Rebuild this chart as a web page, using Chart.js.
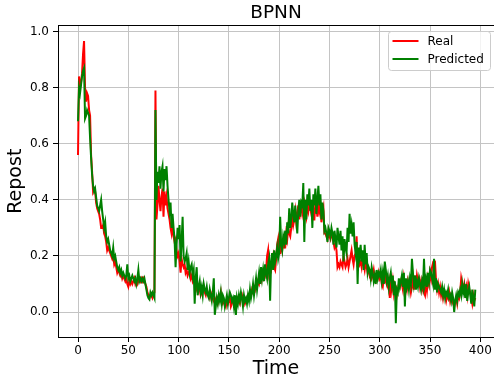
<!DOCTYPE html>
<html>
<head>
<meta charset="utf-8">
<title>BPNN</title>
<script src="https://cdn.jsdelivr.net/npm/chart.js@4.4.0/dist/chart.umd.min.js"></script>
<style>
  html, body { margin: 0; padding: 0; background: #fff; }
  #wrap { width: 494px; height: 383px; }
</style>
</head>
<body>
<div id="wrap"><canvas id="bpnnChart" width="494" height="383"></canvas></div>
<script>
// values, one per time step (0..395)
const realValues = [
    0.56, 0.84, 0.80, 0.82, 0.85, 0.92, 0.966, 0.80, 0.75, 0.78,   // 0
    0.77, 0.72, 0.70, 0.56, 0.50, 0.43, 0.44, 0.43, 0.39, 0.37,    // 10
    0.36, 0.35, 0.33, 0.30, 0.30, 0.31, 0.28, 0.27, 0.25, 0.22,    // 20
    0.23, 0.22, 0.21, 0.20, 0.19, 0.20, 0.17, 0.18, 0.16, 0.14,    // 30
    0.15, 0.14, 0.13, 0.14, 0.12, 0.13, 0.12, 0.11, 0.12, 0.10,    // 40
    0.09, 0.11, 0.10, 0.11, 0.10, 0.11, 0.12, 0.10, 0.11, 0.10,    // 50
    0.11, 0.12, 0.11, 0.12, 0.11, 0.12, 0.11, 0.10, 0.09, 0.07,    // 60
    0.06, 0.05, 0.06, 0.06, 0.05, 0.06, 0.07, 0.79, 0.33, 0.38,    // 70
    0.45, 0.40, 0.36, 0.41, 0.44, 0.34, 0.43, 0.38, 0.41, 0.37,    // 80
    0.35, 0.33, 0.30, 0.28, 0.31, 0.27, 0.25, 0.26, 0.22, 0.20,    // 90
    0.21, 0.18, 0.14, 0.19, 0.17, 0.16, 0.17, 0.14, 0.15, 0.13,    // 100
    0.14, 0.15, 0.12, 0.13, 0.11, 0.12, 0.10, 0.11, 0.08, 0.07,    // 110
    0.09, 0.08, 0.06, 0.07, 0.08, 0.09, 0.07, 0.06, 0.08, 0.07,    // 120
    0.06, 0.05, 0.07, 0.06, 0.05, 0.04, 0.05, 0.04, 0.05, 0.03,    // 130
    0.04, 0.05, 0.07, 0.04, 0.03, 0.04, 0.03, 0.02, 0.04, 0.03,    // 140
    0.04, 0.05, 0.02, 0.03, 0.04, 0.03, 0.02, 0.03, 0.04, 0.05,    // 150
    0.04, 0.03, 0.05, 0.06, 0.04, 0.05, 0.03, 0.04, 0.05, 0.06,    // 160
    0.05, 0.07, 0.06, 0.08, 0.07, 0.09, 0.08, 0.10, 0.09, 0.11,    // 170
    0.10, 0.12, 0.11, 0.13, 0.12, 0.14, 0.13, 0.15, 0.20, 0.22,    // 180
    0.14, 0.16, 0.15, 0.18, 0.20, 0.16, 0.15, 0.19, 0.24, 0.26,    // 190
    0.21, 0.21, 0.24, 0.22, 0.25, 0.23, 0.23, 0.28, 0.26, 0.30,    // 200
    0.28, 0.27, 0.30, 0.34, 0.31, 0.33, 0.36, 0.32, 0.35, 0.38,    // 210
    0.33, 0.36, 0.38, 0.35, 0.37, 0.39, 0.36, 0.34, 0.38, 0.36,    // 220
    0.39, 0.37, 0.35, 0.38, 0.33, 0.33, 0.39, 0.37, 0.34, 0.40,    // 230
    0.36, 0.38, 0.32, 0.35, 0.37, 0.28, 0.28, 0.27, 0.26, 0.29,    // 240
    0.27, 0.26, 0.28, 0.27, 0.25, 0.23, 0.24, 0.22, 0.16, 0.17,    // 250
    0.16, 0.18, 0.17, 0.16, 0.20, 0.18, 0.16, 0.17, 0.19, 0.16,    // 260
    0.18, 0.20, 0.22, 0.19, 0.17, 0.20, 0.21, 0.27, 0.16, 0.19,    // 270
    0.17, 0.18, 0.16, 0.19, 0.17, 0.15, 0.18, 0.16, 0.14, 0.15,    // 280
    0.13, 0.14, 0.12, 0.13, 0.15, 0.12, 0.11, 0.13, 0.12, 0.14,    // 290
    0.12, 0.13, 0.10, 0.09, 0.12, 0.11, 0.13, 0.10, 0.09, 0.11,    // 300
    0.05, 0.12, 0.08, 0.11, 0.07, 0.10, 0.09, 0.06, 0.08, 0.10,    // 310
    0.09, 0.11, 0.10, 0.08, 0.12, 0.09, 0.10, 0.08, 0.11, 0.09,    // 320
    0.10, 0.07, 0.09, 0.12, 0.08, 0.13, 0.09, 0.13, 0.11, 0.12,    // 330
    0.09, 0.11, 0.08, 0.10, 0.07, 0.06, 0.11, 0.08, 0.12, 0.10,    // 340
    0.14, 0.12, 0.16, 0.175, 0.17, 0.175, 0.11, 0.08, 0.10, 0.07,  // 350
    0.09, 0.06, 0.08, 0.05, 0.07, 0.06, 0.04, 0.06, 0.05, 0.07,    // 360
    0.04, 0.06, 0.05, 0.03, 0.02, 0.04, 0.05, 0.03, 0.06, 0.05,    // 370
    0.07, 0.12, 0.10, 0.08, 0.10, 0.07, 0.09, 0.06, 0.10, 0.08,    // 380
    0.07, 0.05, 0.03, 0.06, 0.04, 0.05                             // 390
];

const predictedValues = [
    0.68, 0.80, 0.78, 0.81, 0.84, 0.86, 0.87, 0.69, 0.70, 0.72,    // 0
    0.71, 0.70, 0.62, 0.55, 0.49, 0.45, 0.43, 0.44, 0.41, 0.38,    // 10
    0.37, 0.36, 0.38, 0.40, 0.36, 0.33, 0.30, 0.32, 0.27, 0.25,    // 20
    0.26, 0.24, 0.22, 0.21, 0.20, 0.23, 0.19, 0.20, 0.18, 0.16,    // 30
    0.15, 0.16, 0.14, 0.15, 0.13, 0.14, 0.13, 0.12, 0.13, 0.17,    // 40
    0.12, 0.13, 0.11, 0.12, 0.13, 0.12, 0.11, 0.12, 0.10, 0.12,    // 50
    0.15, 0.11, 0.12, 0.11, 0.12, 0.11, 0.12, 0.10, 0.08, 0.06,    // 60
    0.05, 0.045, 0.07, 0.06, 0.07, 0.06, 0.05, 0.72, 0.40, 0.50,   // 70
    0.46, 0.52, 0.44, 0.50, 0.52, 0.43, 0.51, 0.47, 0.52, 0.45,    // 80
    0.40, 0.36, 0.39, 0.30, 0.35, 0.30, 0.26, 0.16, 0.24, 0.30,    // 90
    0.26, 0.31, 0.18, 0.25, 0.34, 0.20, 0.18, 0.19, 0.21, 0.15,    // 100
    0.18, 0.14, 0.16, 0.17, 0.13, 0.15, 0.03, 0.12, 0.16, 0.06,    // 110
    0.09, 0.11, 0.07, 0.09, 0.06, 0.10, 0.08, 0.07, 0.09, 0.06,    // 120
    0.05, 0.08, 0.06, 0.04, 0.07, 0.12, -0.01, 0.02, 0.05, 0.03,   // 130
    0.06, 0.04, 0.07, 0.03, 0.06, 0.05, 0.02, 0.04, 0.06, 0.03,    // 140
    0.05, 0.07, 0.06, 0.04, 0.05, 0.02, 0.06, -0.01, 0.05, 0.03,   // 150
    0.06, 0.04, 0.07, 0.05, 0.02, 0.06, 0.04, 0.05, 0.03, 0.06,    // 160
    0.04, 0.08, 0.05, 0.07, 0.10, 0.06, 0.09, 0.12, 0.08, 0.11,    // 170
    0.14, 0.10, 0.16, 0.12, 0.15, 0.11, 0.17, 0.14, 0.12, 0.17,    // 180
    0.19, 0.04, 0.18, 0.21, 0.15, 0.22, 0.18, 0.20, 0.23, 0.19,    // 190
    0.21, 0.34, 0.24, 0.22, 0.27, 0.25, 0.29, 0.24, 0.32, 0.28,    // 200
    0.37, 0.30, 0.33, 0.39, 0.35, 0.32, 0.38, 0.33, 0.28, 0.36,    // 210
    0.40, 0.34, 0.39, 0.38, 0.46, 0.25, 0.40, 0.33, 0.42, 0.38,    // 220
    0.44, 0.36, 0.40, 0.30, 0.42, 0.38, 0.44, 0.35, 0.40, 0.45,    // 230
    0.38, 0.42, 0.33, 0.39, 0.36, 0.29, 0.30, 0.28, 0.25, 0.30,    // 240
    0.29, 0.27, 0.30, 0.28, 0.24, 0.29, 0.26, 0.23, 0.30, 0.27,    // 250
    0.24, 0.29, 0.22, 0.27, 0.18, 0.26, 0.23, 0.21, 0.30, 0.25,    // 260
    0.35, 0.28, 0.31, 0.27, 0.32, 0.24, 0.21, 0.25, 0.10, 0.23,    // 270
    0.20, 0.24, 0.18, 0.22, 0.15, 0.24, 0.17, 0.21, 0.14, 0.16,    // 280
    0.15, 0.12, 0.16, 0.14, 0.11, 0.13, 0.10, 0.15, 0.12, 0.14,    // 290
    0.13, 0.15, 0.11, 0.14, 0.10, 0.18, 0.15, 0.11, 0.13, 0.09,    // 300
    0.12, 0.14, 0.10, 0.13, 0.06, 0.11, -0.04, 0.08, 0.07, 0.12,   // 310
    0.09, 0.11, 0.13, 0.09, 0.14, 0.02, 0.12, 0.09, 0.11, 0.08,    // 320
    0.12, 0.10, 0.19, 0.14, 0.10, 0.13, 0.08, 0.11, 0.09, 0.12,    // 330
    0.10, 0.08, 0.11, 0.09, 0.19, 0.10, 0.12, 0.09, 0.14, 0.11,    // 340
    0.15, 0.14, 0.12, 0.10, 0.19, 0.08, 0.12, 0.07, 0.10, 0.09,    // 350
    0.08, 0.07, 0.09, 0.06, 0.08, 0.05, 0.07, 0.06, 0.08, 0.05,    // 360
    0.06, 0.04, 0.07, 0.05, 0.00, 0.04, 0.06, 0.04, 0.07, 0.06,    // 370
    0.08, 0.06, 0.10, 0.07, 0.09, 0.05, 0.10, 0.04, 0.07, 0.09,    // 380
    0.06, 0.03, 0.08, 0.05, 0.02, 0.08                             // 390
];

const timeSteps = realValues.map((_, i) => i);
const xTicks = [0, 50, 100, 150, 200, 250, 300, 350, 400];
const yTicks = [0.0, 0.2, 0.4, 0.6, 0.8, 1.0];

const FONT = 'DejaVu Sans';
const LINE_W = 2;

// matplotlib style legend box in the upper right of the axes
const boxLegend = {
    id: 'boxLegend',
    afterDraw(chart) {
        const ctx = chart.ctx;
        const x0 = 388, y0 = 31, w = 102, h = 39;
        ctx.save();
        ctx.beginPath();
        ctx.roundRect(x0 + 0.5, y0 + 0.5, w, h, 3);
        ctx.fillStyle = 'rgba(255,255,255,0.8)';
        ctx.fill();
        ctx.strokeStyle = '#cccccc';
        ctx.lineWidth = 1;
        ctx.stroke();
        ctx.font = '12px "' + FONT + '"';
        ctx.textBaseline = 'middle';
        ctx.textAlign = 'left';
        chart.data.datasets.forEach((ds, i) => {
            const y = 41 + i * 18;
            ctx.beginPath();
            ctx.moveTo(392.5, y);
            ctx.lineTo(418.5, y);
            ctx.strokeStyle = ds.borderColor;
            ctx.lineWidth = LINE_W;
            ctx.stroke();
            ctx.fillStyle = '#000';
            ctx.fillText(ds.label, 427.5, y + 0.5);
        });
        ctx.restore();
    }
};

// top spine of the axes frame
const topSpine = {
    id: 'topSpine',
    afterDatasetsDraw(chart) {
        const {ctx, chartArea} = chart;
        const y = Math.round(chartArea.top) + 0.5;
        ctx.save();
        ctx.strokeStyle = '#000';
        ctx.lineWidth = 1;
        ctx.beginPath();
        ctx.moveTo(chartArea.left, y);
        ctx.lineTo(chartArea.right, y);
        ctx.stroke();
        ctx.restore();
    }
};

Chart.defaults.font.family = FONT;
Chart.defaults.color = '#000';

const ctx = document.getElementById('bpnnChart').getContext('2d');

new Chart(ctx, {
    type: 'line',
    data: {
        labels: timeSteps,
        datasets: [
            {
                label: 'Real',
                data: realValues,
                borderColor: '#ff0000',
                borderWidth: LINE_W,
                pointRadius: 0,
                tension: 0,
                fill: false,
                order: 2
            },
            {
                label: 'Predicted',
                data: predictedValues,
                borderColor: '#008000',
                borderWidth: LINE_W,
                pointRadius: 0,
                tension: 0,
                fill: false,
                order: 1
            }
        ]
    },
    options: {
        responsive: false,
        animation: false,
        devicePixelRatio: 1,
        layout: {
            padding: { left: 0, right: 0, top: 0, bottom: 0 }
        },
        scales: {
            x: {
                type: 'linear',
                min: -19.9,
                max: 413.6,
                afterBuildTicks(scale) {
                    scale.ticks = xTicks.map(v => ({ value: v }));
                },
                afterFit(scale) {
                    scale.height = 46;
                },
                ticks: {
                    font: { size: 12 },
                    padding: 2,
                    maxRotation: 0,
                    callback: v => String(v)
                },
                grid: {
                    color: '#c4c4c4',
                    lineWidth: 1,
                    tickColor: '#000',
                    tickLength: 5
                },
                border: { color: '#000', width: 1 },
                title: {
                    display: true,
                    text: 'Time',
                    font: { size: 19 },
                    padding: { top: 0, bottom: 2.6 }
                }
            },
            y: {
                min: -0.089,
                max: 1.022,
                afterBuildTicks(scale) {
                    scale.ticks = yTicks.map(v => ({ value: v }));
                },
                afterFit(scale) {
                    scale.width = 58;
                },
                ticks: {
                    font: { size: 12 },
                    padding: 4,
                    callback: v => v.toFixed(1)
                },
                grid: {
                    color: '#c4c4c4',
                    lineWidth: 1,
                    tickColor: '#000',
                    tickLength: 5
                },
                border: { color: '#000', width: 1 },
                title: {
                    display: true,
                    text: 'Repost',
                    font: { size: 19 },
                    padding: { top: 4.6, bottom: 0 }
                }
            }
        },
        plugins: {
            legend: { display: false },
            tooltip: { enabled: false },
            title: {
                display: true,
                text: 'BPNN',
                fullSize: false,
                font: { size: 18.5, weight: 'normal' },
                color: '#000',
                padding: { top: 2.5, bottom: 0.7 }
            }
        }
    },
    plugins: [topSpine, boxLegend]
});
</script>
</body>
</html>
